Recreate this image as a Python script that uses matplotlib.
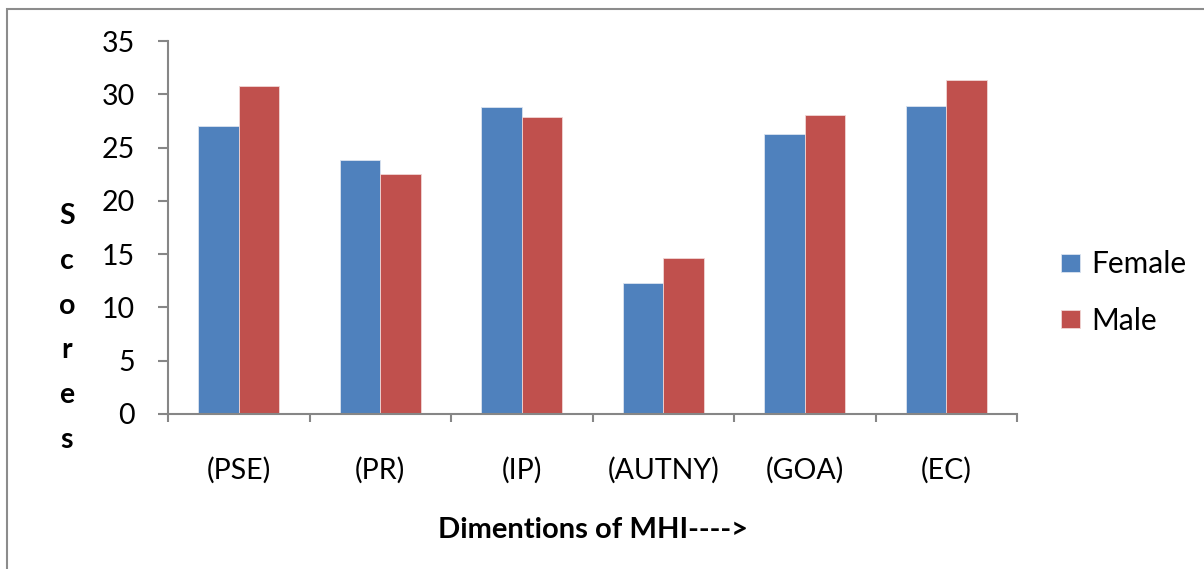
import matplotlib.pyplot as plt
import numpy as np
from matplotlib.patches import Rectangle

plt.rcParams['font.family'] = ['Lato', 'DejaVu Sans']

categories = ['(PSE)', '(PR)', '(IP)', '(AUTNY)', '(GOA)', '(EC)']
female = [27.0, 23.8, 28.8, 12.3, 26.3, 28.9]
male = [30.8, 22.5, 27.9, 14.6, 28.1, 31.3]

blue = '#4F81BD'
red = '#C0504D'
axis_gray = '#868686'

fig = plt.figure(figsize=(12.04, 5.69), dpi=100)
ax = fig.add_axes([168 / 1204, 1 - 414 / 569, (1017 - 168) / 1204, (414 - 41) / 569])

x = np.arange(len(categories))
w = 0.2857
ax.bar(x - w / 2, female, width=w, color=blue, edgecolor='#dbe4f0', linewidth=0.6, label='Female')
ax.bar(x + w / 2, male, width=w, color=red, edgecolor='#f0d6d5', linewidth=0.6, label='Male')

ax.set_xlim(-0.5, len(categories) - 0.5)
ax.set_ylim(0, 35)
ax.set_yticks(range(0, 36, 5))
ax.set_xticks(x)
ax.set_xticklabels(categories)
ax.set_xticks(np.arange(-0.5, len(categories), 1), minor=True)

# Turn off top/right spines
for side in ['top', 'right']:
    ax.spines[side].set_visible(False)
for side in ['left', 'bottom']:
    ax.spines[side].set_color(axis_gray)
    ax.spines[side].set_linewidth(1.5)

ax.tick_params(axis='y', length=7, width=1.5, color=axis_gray, labelsize=20.5, pad=17)
ax.tick_params(axis='x', which='major', length=0, labelsize=20.5, pad=31)
ax.tick_params(axis='x', which='minor', length=6, width=1.5, color=axis_gray)

ax.set_xlabel('Dimentions of MHI---->', fontsize=21, fontweight='bold', labelpad=24)

fig.text(67 / 1204, 1 - 328 / 569, 'S\nc\no\nr\ne\ns', ha='center', va='center',
         fontsize=20.5, fontweight='bold', linespacing=1.9)

ax.legend(loc='center left', bbox_to_anchor=(1.052, 0.326), frameon=False, fontsize=21.5,
          borderpad=0, borderaxespad=0,
          handlelength=0.62, handleheight=0.55, handletextpad=0.4, labelspacing=0.95)

# outer frame of the chart area
fig.patches.append(Rectangle((7 / 1204, -0.05), 1.2, 1 - 9 / 569 + 0.05,
                             transform=fig.transFigure, fill=False,
                             edgecolor='#8c8c8c', linewidth=1.5))

fig.savefig('out.png', dpi=100)
